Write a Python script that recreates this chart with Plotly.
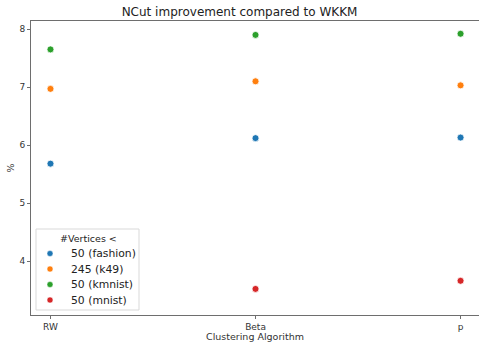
import plotly.graph_objects as go

categories = ["RW", "Beta", "p"]
series_names = ["50 (fashion)", "245 (k49)", "50 (kmnist)", "50 (mnist)"]
fashion = [5.68, 6.12, 6.13]
k49 = [6.97, 7.10, 7.03]
kmnist = [7.65, 7.90, 7.92]
mnist = [None, 3.52, 3.66]
colors = ["#1f77b4", "#ff7f0e", "#2ca02c", "#d62728"]
y_ticks = [4, 5, 6, 7, 8]
legend_title = "#Vertices <"

font = "DejaVu Sans"
W, H = 479, 342
ML, MR, MT, MB = 31, 0, 21, 27
PW, PH = W - ML - MR, H - MT - MB


def px(x, y):
    """pixel -> paper coordinates"""
    return (x - ML) / PW, (H - MB - y) / PH


fig = go.Figure()
for name, vals, c in zip(series_names, [fashion, k49, kmnist, mnist], colors):
    fig.add_trace(go.Scatter(
        x=categories, y=vals, mode="markers", name=name, showlegend=False,
        marker=dict(color=c, size=7, line=dict(color="white", width=0.8)),
    ))

# legend box (drawn manually to match matplotlib spacing)
shapes = []
annotations = []
x0, y0 = px(36, 229)
x1, y1 = px(139, 310)
shapes.append(dict(type="rect", xref="paper", yref="paper", x0=x0, y0=y1, x1=x1, y1=y0,
                   line=dict(color="#d9d9d9", width=1), fillcolor="rgba(255,255,255,0.85)", layer="above"))
tx, ty = px(88, 238)
annotations.append(dict(text=legend_title, xref="paper", yref="paper", x=tx, y=ty,
                        xanchor="center", yanchor="middle", showarrow=False,
                        font=dict(family=font, size=9.5, color="#222")))
for i, (name, c) in enumerate(zip(series_names, colors)):
    yy = 253.5 + i * 15.5
    mx0, my0 = px(47, yy - 3)
    mx1, my1 = px(53, yy + 3)
    shapes.append(dict(type="circle", xref="paper", yref="paper", x0=mx0, y0=my1, x1=mx1, y1=my0,
                       fillcolor=c, line=dict(color="white", width=0.5), layer="above"))
    lx, ly = px(69, yy)
    annotations.append(dict(text=name, xref="paper", yref="paper", x=lx, y=ly,
                            xanchor="left", yanchor="middle", showarrow=False,
                            font=dict(family=font, size=10.8, color="#222")))

axis_common = dict(showline=True, linecolor="#6e6e6e", linewidth=1, mirror=True,
                   showgrid=False, zeroline=False, ticks="outside", ticklen=3,
                   tickcolor="#6e6e6e", tickfont=dict(family=font, size=9, color="#333"))
fig.update_layout(
    width=W, height=H,
    margin=dict(l=ML, r=MR, t=MT, b=MB),
    plot_bgcolor="white", paper_bgcolor="white",
    title=dict(text="NCut improvement compared to WKKM", x=0.5, xanchor="center",
               y=1 - 12 / H, yanchor="middle", font=dict(family=font, size=12, color="#222")),
    xaxis=dict(**axis_common, type="category", range=[-0.095, 2.09],
               title=dict(text="Clustering Algorithm", standoff=3,
                          font=dict(family=font, size=9.5, color="#333"))),
    yaxis=dict(**axis_common, range=[3.07, 8.14], tickvals=y_ticks,
               title=dict(text="%", standoff=3, font=dict(family=font, size=9.5, color="#333"))),
    shapes=shapes, annotations=annotations,
    showlegend=False,
)
fig.write_html("out.html", config={"displayModeBar": False},
               post_script="document.body.style.margin='0';document.body.style.overflow='hidden';")
